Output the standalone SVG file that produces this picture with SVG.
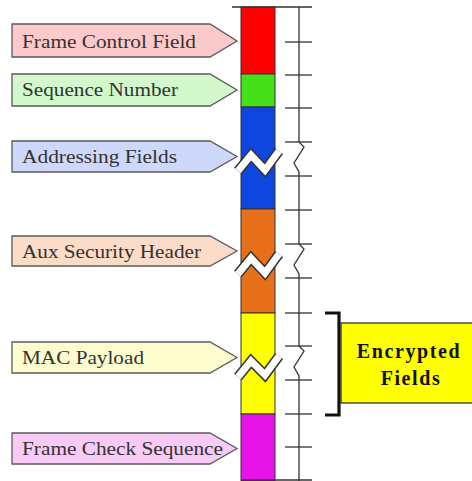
<svg xmlns="http://www.w3.org/2000/svg" width="472" height="481" viewBox="0 0 472 481">
  <style>
    .lbl { stroke: #5a5a5a; stroke-width: 1.3; }
    .lbl text { font-family: "Liberation Serif", "Times New Roman", serif; font-size: 19.5px; fill: #333; stroke: none; }
    .seg { stroke: #333; stroke-width: 1; }
    .rule { stroke: #333; stroke-width: 1.3; fill: none; }
    .brk-o { stroke: #333; stroke-width: 10; fill: none; stroke-linejoin: miter; }
    .brk-i { stroke: #fff; stroke-width: 7; fill: none; stroke-linejoin: miter; }
    .enc { font-family: "Liberation Serif", "Times New Roman", serif; font-size: 20px; font-weight: bold; fill: #111; text-anchor: middle; letter-spacing: 1.6px; }
  </style>

  <!-- field labels -->
  <g id="lbl-fcf" class="lbl">
    <polygon points="12,24 210,24 237,41 210,57 12,57" fill="#fccaca"/>
    <text x="22" y="48" textLength="174" lengthAdjust="spacingAndGlyphs">Frame Control Field</text>
  </g>
  <g id="lbl-seq" class="lbl">
    <polygon points="12,74 210,74 237,90 210,106 12,106" fill="#d2f8cc"/>
    <text x="22" y="96" textLength="156" lengthAdjust="spacingAndGlyphs">Sequence Number</text>
  </g>
  <g id="lbl-addr" class="lbl">
    <polygon points="12,141 210,141 237,156.5 210,172 12,172" fill="#cdd8fb"/>
    <text x="22" y="163" textLength="155" lengthAdjust="spacingAndGlyphs">Addressing Fields</text>
  </g>
  <g id="lbl-aux" class="lbl">
    <polygon points="12,236 210,236 237,251 210,266 12,266" fill="#fbdcc8"/>
    <text x="22" y="258" textLength="179" lengthAdjust="spacingAndGlyphs">Aux Security Header</text>
  </g>
  <g id="lbl-mac" class="lbl">
    <polygon points="12,342 210,342 237,357.5 210,373 12,373" fill="#fdfdcf"/>
    <text x="22" y="364" textLength="122" lengthAdjust="spacingAndGlyphs">MAC Payload</text>
  </g>
  <g id="lbl-fcs" class="lbl">
    <polygon points="12,433 210,433 237,448.5 210,464 12,464" fill="#f8cbf6"/>
    <text x="22" y="455" textLength="201" lengthAdjust="spacingAndGlyphs">Frame Check Sequence</text>
  </g>

  <!-- frame column -->
  <g id="column">
    <rect class="seg" x="241" y="7" width="34" height="67" fill="#ff0000"/>
    <rect class="seg" x="241" y="74" width="34" height="33" fill="#44e01a"/>
    <rect class="seg" x="241" y="107" width="34" height="102" fill="#1046e0"/>
    <rect class="seg" x="241" y="209" width="34" height="104" fill="#e8701a"/>
    <rect class="seg" x="241" y="313" width="34" height="101" fill="#ffff00"/>
    <rect class="seg" x="241" y="414" width="34" height="67" fill="#e614e6"/>
    <!-- break marks -->
    <polyline class="brk-o" points="238,171 251,155 265,170 279,151"/>
    <polyline class="brk-i" points="238,171 251,155 265,170 279,151"/>
    <polyline class="brk-o" points="238,274 251,258 265,273 279,254"/>
    <polyline class="brk-i" points="238,274 251,258 265,273 279,254"/>
    <polyline class="brk-o" points="238,377 251,361 265,375 279,356"/>
    <polyline class="brk-i" points="238,377 251,361 265,375 279,356"/>
  </g>

  <!-- length scale -->
  <g id="scale">
    <line class="rule" x1="232" y1="7" x2="312" y2="7"/>
    <line class="rule" x1="241" y1="480" x2="312" y2="480"/>
    <polyline class="rule" points="299,7 299,142 304,147 294,163 299,172 299,244 304,249 294,265 299,274 299,346 304,351 294,367 299,376 299,481"/>
    <g class="rule">
      <line x1="285" y1="42" x2="312" y2="42"/>
      <line x1="285" y1="75" x2="312" y2="75"/>
      <line x1="285" y1="108" x2="312" y2="108"/>
      <line x1="285" y1="142" x2="312" y2="142"/>
      <line x1="285" y1="176" x2="312" y2="176"/>
      <line x1="285" y1="210" x2="312" y2="210"/>
      <line x1="285" y1="244" x2="312" y2="244"/>
      <line x1="285" y1="278" x2="312" y2="278"/>
      <line x1="285" y1="313" x2="312" y2="313"/>
      <line x1="285" y1="346" x2="312" y2="346"/>
      <line x1="285" y1="380" x2="312" y2="380"/>
      <line x1="285" y1="414" x2="312" y2="414"/>
      <line x1="285" y1="447" x2="312" y2="447"/>
    </g>
  </g>

  <!-- encrypted range -->
  <g id="encrypted">
    <polyline points="325,313 339,313 339,415 325,415" fill="none" stroke="#111" stroke-width="3.2"/>
    <rect x="341" y="323" width="135" height="80" fill="#ffff00" stroke="#333" stroke-width="1.3"/>
    <text class="enc" x="409" y="358">Encrypted</text>
    <text class="enc" x="411" y="385">Fields</text>
  </g>
</svg>
